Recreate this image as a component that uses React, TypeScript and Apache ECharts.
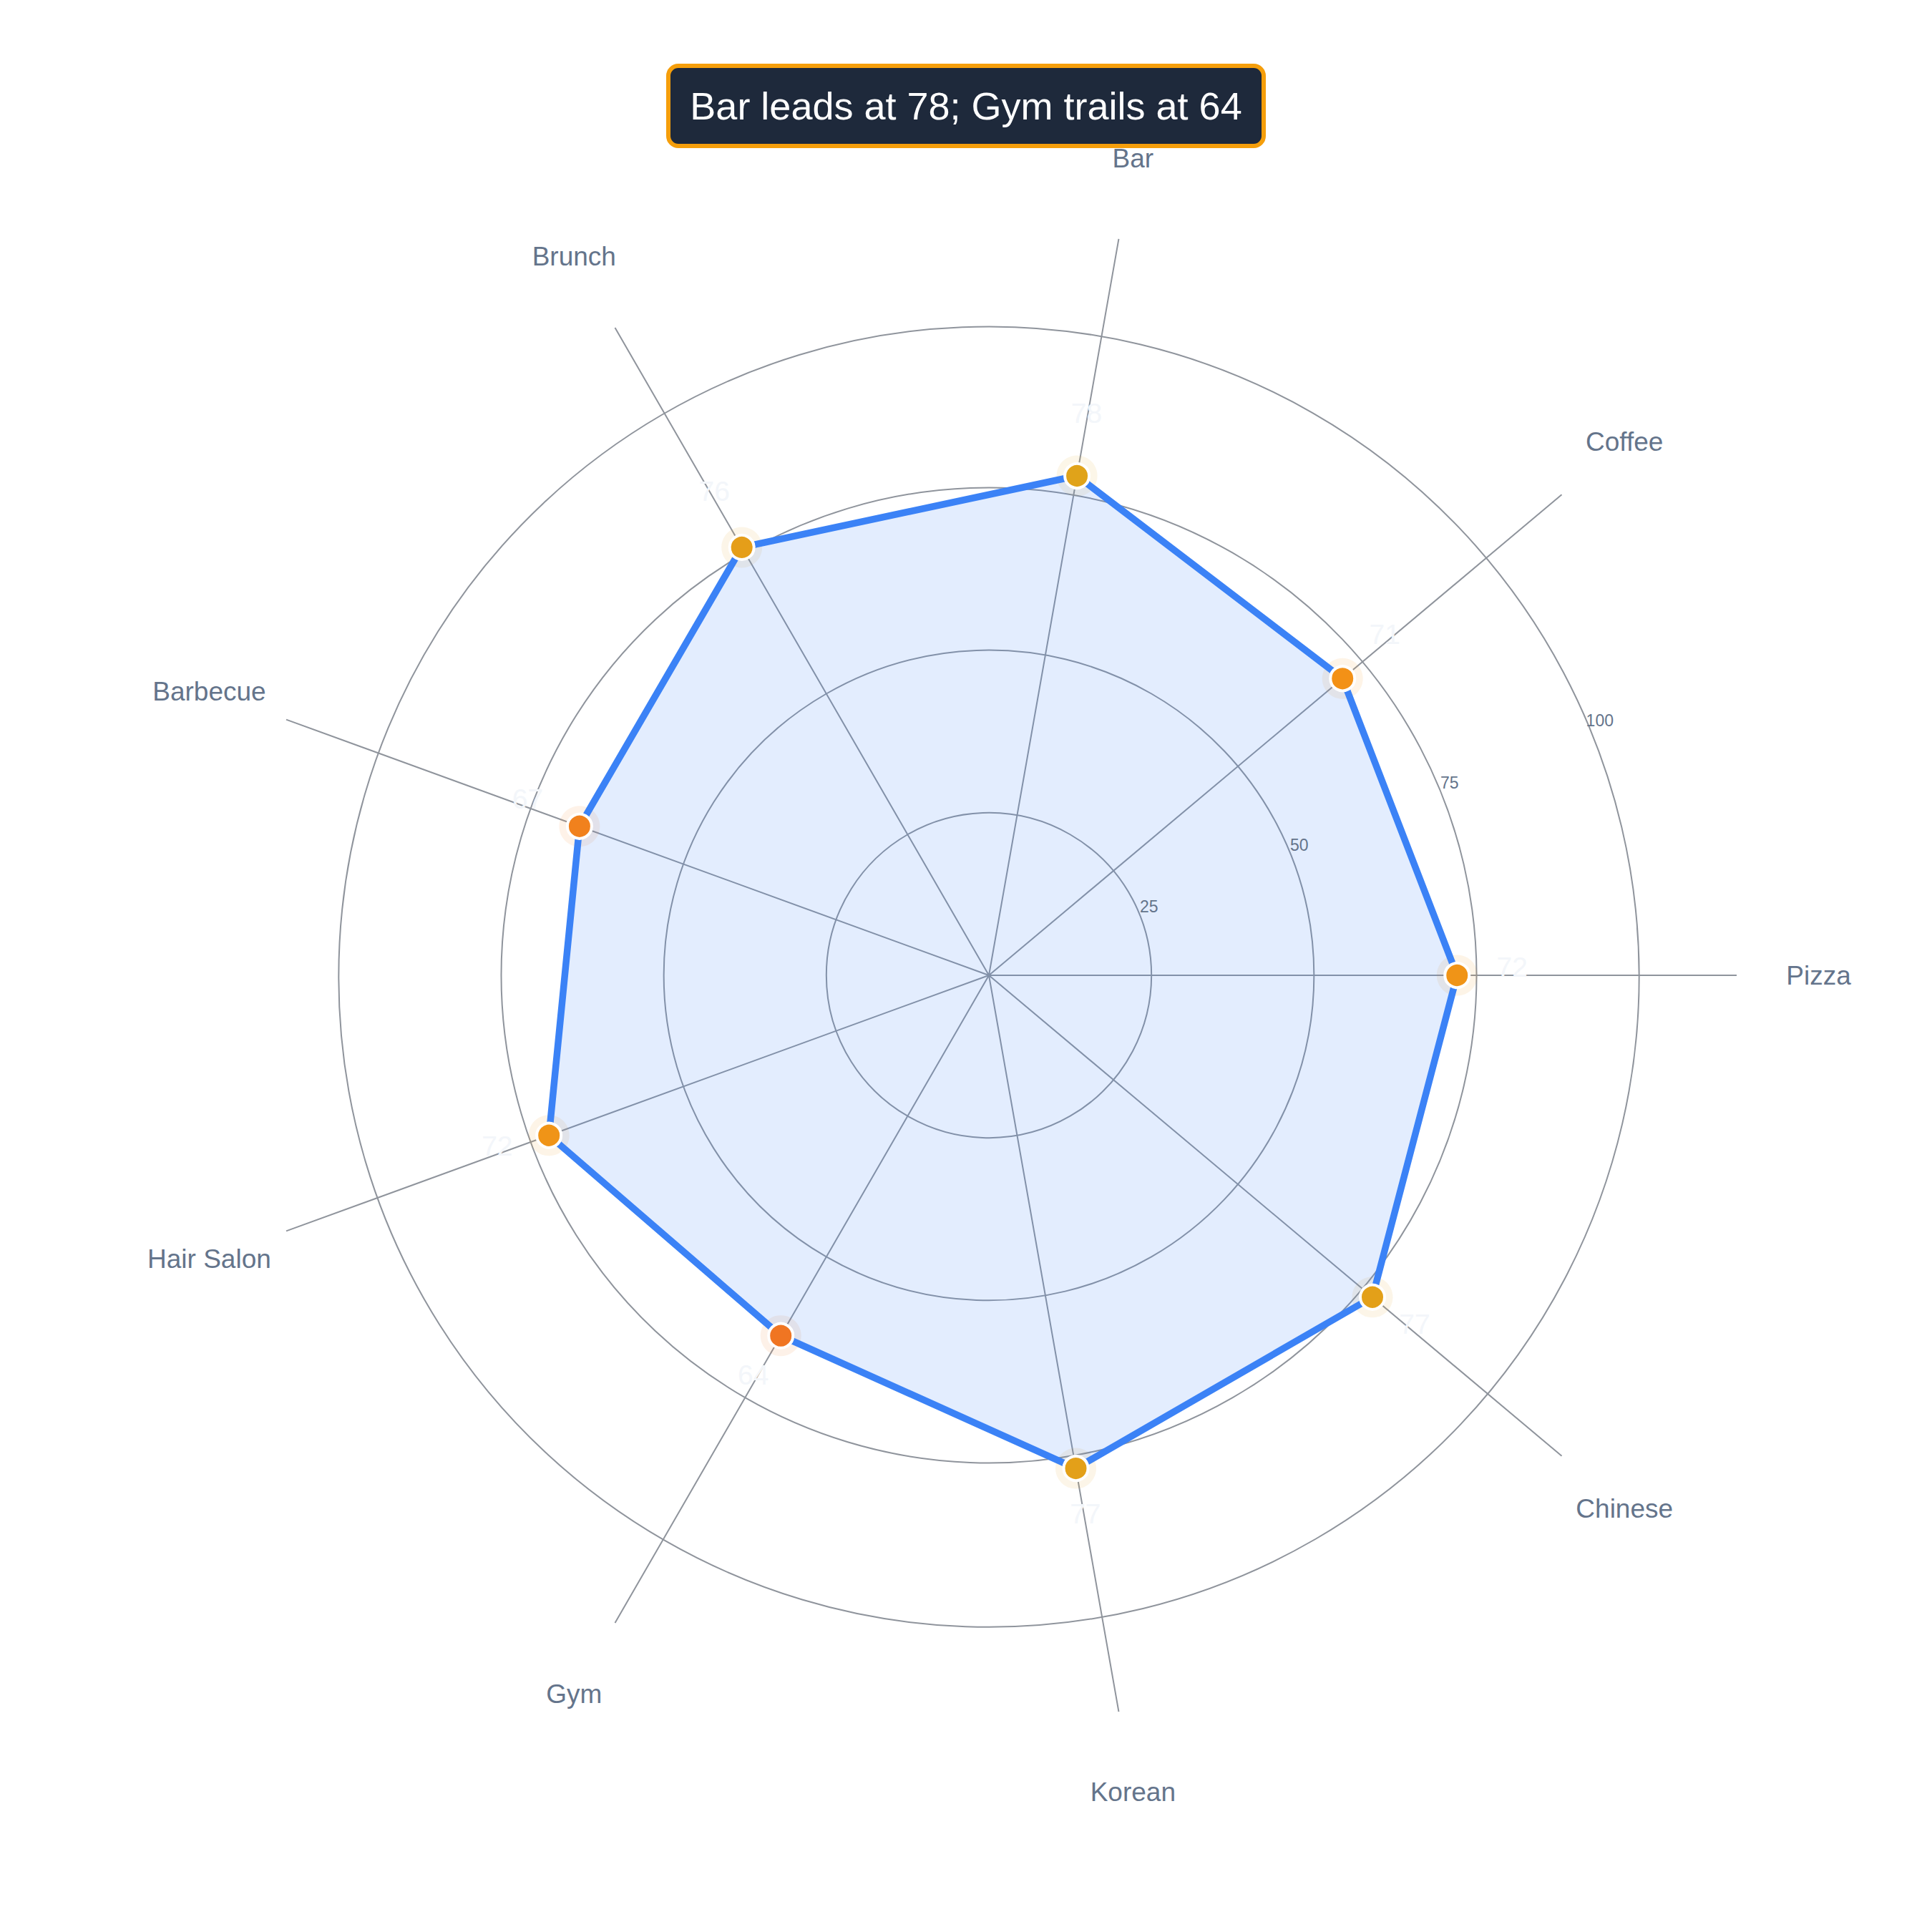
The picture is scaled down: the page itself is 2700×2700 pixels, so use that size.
import React, { useEffect, useRef } from 'react';
import * as echarts from 'echarts';

const CATEGORIES = ['Pizza', 'Coffee', 'Bar', 'Brunch', 'Barbecue', 'Hair Salon', 'Gym', 'Korean', 'Chinese'];
const SCORES = [72, 71, 78, 76, 67, 72, 64, 77, 77];
const RADIAL_TICKS = [25, 50, 75, 100];
const TITLE = 'Bar leads at 78; Gym trails at 64';

const FONT = '"Liberation Sans", Arial, Helvetica, sans-serif';
const GRID_COLOR = '#8f949c';
const LABEL_COLOR = '#64748b';

export default function App() {
  const ref = useRef<HTMLDivElement>(null);

  useEffect(() => {
    const el = ref.current;
    if (!el) return;
    const chart = echarts.init(el, undefined, { renderer: 'svg' });

    const CENTER = [1382, 1363];
    const RANGE_MAX = 115;
    const R_OUTER = 1045;
    const GRID_MAX = RADIAL_TICKS[RADIAL_TICKS.length - 1];
    const R_GRID = (R_OUTER * GRID_MAX) / RANGE_MAX;
    const step = 360 / CATEGORIES.length;
    const LABEL_DIST = 77;
    const TICK_LABEL_ANGLE = 22.4;

    // angle of each category derived from its index
    const angleOf = (i: number) => i * step;
    const points = CATEGORIES.map((_, i) => [SCORES[i], angleOf(i)]);
    const closed = [...points, [SCORES[0], 360]];

    const option: any = {
      animation: false,
      backgroundColor: '#ffffff',
      title: {
        text: TITLE,
        left: 'center',
        top: 92,
        backgroundColor: '#1e293b',
        borderColor: '#f59e0b',
        borderWidth: 6,
        borderRadius: 14,
        padding: [26, 31],
        textStyle: {
          color: '#ffffff',
          fontSize: 54,
          fontWeight: 'normal',
          fontFamily: FONT,
          lineHeight: 60,
        },
      },
      polar: [
        { center: CENTER, radius: R_OUTER },
        { center: CENTER, radius: R_GRID },
      ],
      angleAxis: [
        {
          polarIndex: 0,
          type: 'value',
          min: 0,
          max: 360,
          interval: step,
          startAngle: 0,
          clockwise: false,
          axisLine: { show: false },
          axisTick: { show: false },
          axisLabel: { show: false },
          splitLine: { show: true, lineStyle: { color: GRID_COLOR, width: 2 } },
        },
        {
          polarIndex: 1,
          type: 'value',
          min: 0,
          max: 360,
          startAngle: 0,
          clockwise: false,
          show: false,
        },
      ],
      radiusAxis: [
        { polarIndex: 0, type: 'value', min: 0, max: RANGE_MAX, show: false },
        {
          polarIndex: 1,
          type: 'value',
          min: 0,
          max: GRID_MAX,
          interval: 25,
          axisLine: { show: false },
          axisTick: { show: false },
          axisLabel: { show: false },
          splitLine: { show: true, lineStyle: { color: GRID_COLOR, width: 2 } },
        },
      ],
      visualMap: {
        type: 'continuous',
        show: false,
        dimension: 0,
        seriesIndex: [0, 2],
        min: Math.min(...SCORES),
        max: Math.max(...SCORES),
        inRange: { color: ['#f07522', '#f39116', '#e0a31a'] },
      },
      series: [
        {
          type: 'scatter',
          coordinateSystem: 'polar',
          polarIndex: 0,
          data: points,
          symbolSize: 57,
          itemStyle: { opacity: 0.1 },
          silent: true,
          z: 1,
        },
        {
          type: 'line',
          coordinateSystem: 'polar',
          polarIndex: 0,
          data: closed,
          showSymbol: false,
          symbol: 'none',
          lineStyle: { color: '#3b82f6', width: 9.5, join: 'round' },
          areaStyle: { color: 'rgba(59,130,246,0.14)', opacity: 1 },
          z: 2,
        },
        {
          type: 'scatter',
          coordinateSystem: 'polar',
          polarIndex: 0,
          data: points.map((p, i) => {
            const a = (angleOf(i) * Math.PI) / 180;
            return {
              value: p,
              label: { offset: [LABEL_DIST * Math.cos(a), -LABEL_DIST * Math.sin(a) - 12] },
            };
          }),
          symbolSize: 34,
          itemStyle: { borderColor: '#ffffff', borderWidth: 4, opacity: 1 },
          label: {
            show: true,
            position: 'inside',
            formatter: (p: any) => String(p.value[0]),
            color: '#f3f6fa',
            fontSize: 39,
            fontFamily: FONT,
          },
          z: 3,
        },
      ],
    };

    chart.setOption(option);

    const LABEL_R = 127.6;
    const catLabels = CATEGORIES.map((c, i) => {
      const pt = chart.convertToPixel({ polarIndex: 0 } as any, [LABEL_R, angleOf(i)] as any) as any;
      return {
        type: 'text',
        x: pt[0],
        y: pt[1],
        silent: true,
        z: 10,
        style: {
          text: c,
          fill: LABEL_COLOR,
          fontSize: 37,
          fontFamily: FONT,
          align: 'center',
          verticalAlign: 'middle',
          textAlign: 'center',
          textVerticalAlign: 'middle',
        },
      };
    });
    const tickLabels = RADIAL_TICKS.map((t) => {
      const pt = chart.convertToPixel({ polarIndex: 0 } as any, [t + 2.1, TICK_LABEL_ANGLE] as any) as any;
      return {
        type: 'text',
        x: pt[0] - 4,
        y: pt[1] - 2,
        silent: true,
        z: 10,
        style: {
          text: String(t),
          fill: LABEL_COLOR,
          fontSize: 23,
          fontFamily: FONT,
          align: 'center',
          verticalAlign: 'middle',
          textAlign: 'center',
          textVerticalAlign: 'middle',
        },
      };
    });
    chart.setOption({ graphic: [...catLabels, ...tickLabels] });

    return () => {
      chart.dispose();
    };
  }, []);

  return (
    <div
      ref={ref}
      style={{ position: 'fixed', left: 0, top: 0, width: 2700, height: 2700, background: '#ffffff' }}
    />
  );
}
